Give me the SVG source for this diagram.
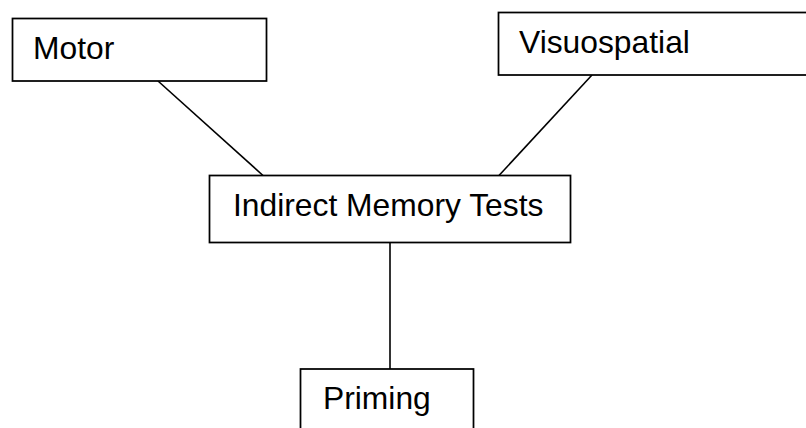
<svg xmlns="http://www.w3.org/2000/svg" width="806" height="428" viewBox="0 0 806 428">
<style>
.box{fill:#fff;stroke:#000;stroke-width:1.75}
.lbl{font-family:"Liberation Sans",Arial,sans-serif;font-size:31.8px;fill:#000}
.edge{stroke:#000;stroke-width:1.6;fill:none}
</style>
<rect width="806" height="428" fill="#fff"/>
<g id="connectors">
<line class="edge" x1="158" y1="81" x2="263" y2="175.5"/>
<line class="edge" x1="592" y1="75" x2="499" y2="175.5"/>
<line class="edge" x1="390" y1="242.5" x2="390" y2="369"/>
</g>
<g id="motor">
<rect class="box" x="12.5" y="18.5" width="254" height="62.5"/>
<text class="lbl" x="33" y="59">Motor</text>
</g>
<g id="visuospatial">
<rect class="box" x="498.5" y="12.5" width="330" height="62.5"/>
<text class="lbl" x="519" y="53">Visuospatial</text>
</g>
<g id="indirect">
<rect class="box" x="209.5" y="175.5" width="361" height="67"/>
<text class="lbl" x="233" y="216">Indirect Memory Tests</text>
</g>
<g id="priming">
<rect class="box" x="300.5" y="369" width="173" height="80"/>
<text class="lbl" x="323" y="409">Priming</text>
</g>
</svg>
